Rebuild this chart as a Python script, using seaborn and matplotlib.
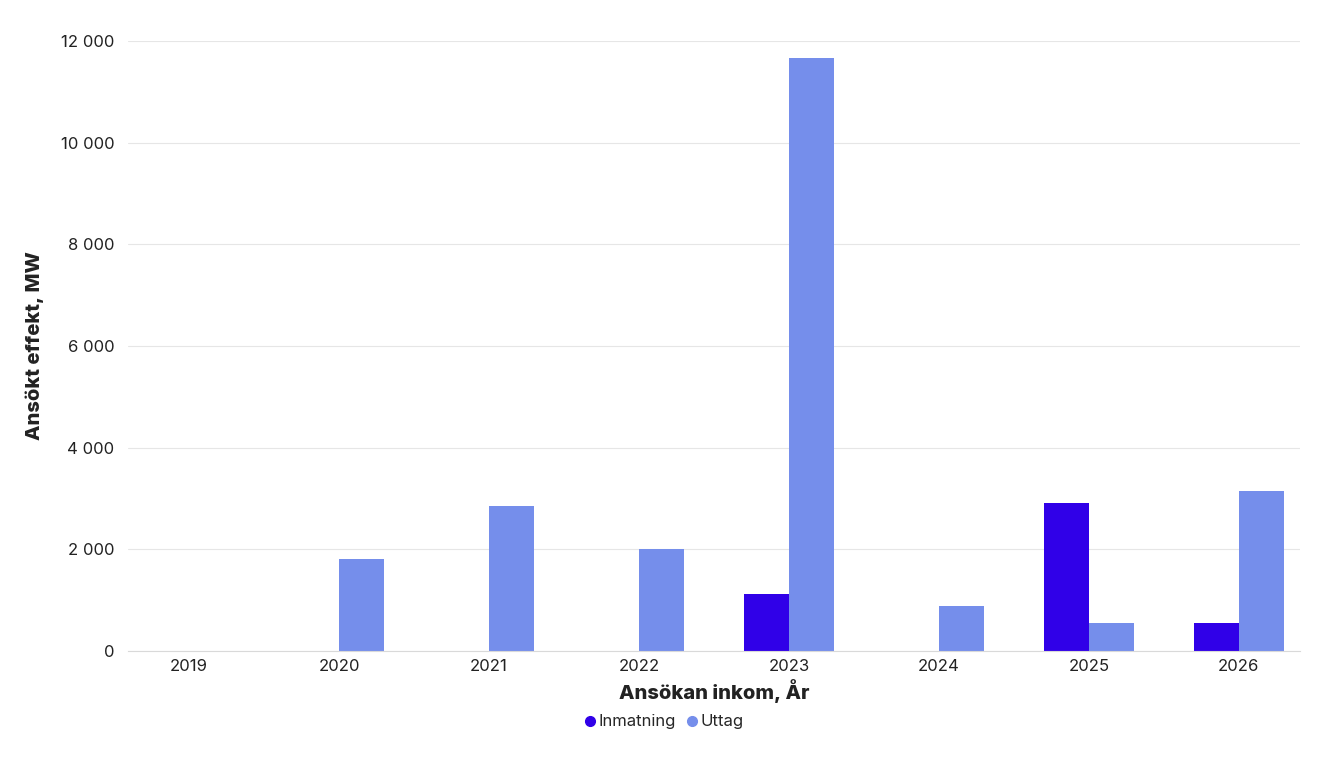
import numpy as np
import pandas as pd
import matplotlib
matplotlib.use('Agg')
import matplotlib.pyplot as plt
import seaborn as sns
from matplotlib.ticker import FuncFormatter
from matplotlib.lines import Line2D

years = ['2019', '2020', '2021', '2022', '2023', '2024', '2025', '2026']
inmatning = [0, 0, 0, 0, 1120, 0, 2910, 550]
uttag = [0, 1810, 2850, 2005, 11665, 885, 550, 3150]
series = ['Inmatning', 'Uttag']
colors = ['#3000E8', '#758EEB']

df = pd.DataFrame({'År': years * 2,
                   'MW': inmatning + uttag,
                   'Typ': ['Inmatning'] * len(years) + ['Uttag'] * len(years)})

sns.set_style('white')
plt.rcParams['font.family'] = ['Inter', 'DejaVu Sans']

fig = plt.figure(figsize=(13.28, 7.68), dpi=100)
ax = fig.add_axes([0.0964, 0.1523, 0.8825, 0.7943])

sns.barplot(data=df, x='År', y='MW', hue='Typ', hue_order=series,
            palette=colors, width=0.6, gap=0, saturation=1, linewidth=0,
            ax=ax, legend=False)

ax.set_xlim(-0.407, 7.407)
ax.set_ylim(0, 12000)
ax.set_yticks(range(0, 12001, 2000))
ax.yaxis.set_major_formatter(FuncFormatter(lambda v, p: f'{int(v):,}'.replace(',', ' ')))
ax.grid(axis='y', color='#e6e6e6', linewidth=0.8)
ax.set_axisbelow(True)
for s in ['top', 'right', 'left']:
    ax.spines[s].set_visible(False)
ax.spines['bottom'].set_color('#d9d9d9')
ax.tick_params(axis='both', length=0, labelsize=12, colors='#222222')
ax.tick_params(axis='y', pad=10)
ax.tick_params(axis='x', pad=6)

ax.set_xlabel('Ansökan inkom, År', fontsize=14.5, fontweight='heavy', color='#222222', labelpad=3)
ax.set_ylabel('Ansökt effekt, MW', fontsize=14.5, fontweight='heavy', color='#222222', labelpad=12)

handles = [Line2D([0], [0], marker='o', linestyle='', markersize=7,
                  markerfacecolor=c, markeredgecolor=c) for c in colors]
fig.legend(handles, series, loc='center', bbox_to_anchor=(0.499, 0.06), ncol=2,
           frameon=False, fontsize=12, handletextpad=0.0, columnspacing=0.5,
           handlelength=1.0)

fig.savefig('out.png', dpi=100)
